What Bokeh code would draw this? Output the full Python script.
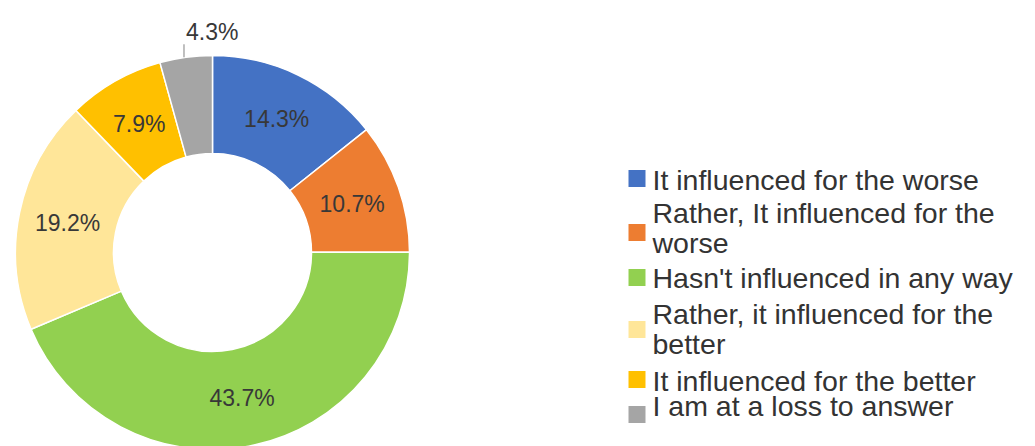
import numpy as np
from bokeh.plotting import figure
from bokeh.models import Range1d, ColumnDataSource
from bokeh.core.properties import value
from bokeh.embed import file_html
from bokeh.resources import INLINE

# ---- data ----
categories = [
    "It influenced for the worse",
    "Rather, It influenced for the worse",
    "Hasn't influenced in any way",
    "Rather, it influenced for the better",
    "It influenced for the better",
    "I am at a loss to answer",
]
legend_lines = [
    ["It influenced for the worse"],
    ["Rather, It influenced for the", "worse"],
    ["Hasn't influenced in any way"],
    ["Rather, it influenced for the", "better"],
    ["It influenced for the better"],
    ["I am at a loss to answer"],
]
shares = [14.3, 10.7, 43.7, 19.2, 7.9, 4.3]
colors = ["#4472C4", "#ED7D31", "#92D050", "#FFE699", "#FFC000", "#A5A5A5"]

# ---- layout ----
W, H = 1035, 446
cx, cy = 212, H - 252
r_out, r_in = 197, 99

p = figure(width=W, height=H, x_range=Range1d(0, W), y_range=Range1d(0, H),
           output_backend="svg", toolbar_location=None,
           x_axis_location=None, y_axis_location=None, min_border=0)
p.outline_line_color = None
p.grid.visible = False
p.background_fill_color = "white"

vals = np.array(shares, dtype=float)
frac = vals / vals.sum()
cum_end = np.cumsum(frac)
cum_start = cum_end - frac
start = np.pi / 2 - 2 * np.pi * cum_end
end = np.pi / 2 - 2 * np.pi * cum_start
mid = 2 * np.pi * (cum_start + cum_end) / 2  # clockwise from top

src = ColumnDataSource(dict(start=start, end=end, color=colors, cat=categories))
p.annular_wedge(x=cx, y=cy, inner_radius=r_in, outer_radius=r_out,
                start_angle="start", end_angle="end", direction="anticlock",
                fill_color="color", line_color="white", line_width=1.5, source=src)

# data labels
lab = [f"{v:.1f}%" for v in shares]
r_mid = (r_in + r_out) / 2
inside = list(range(len(shares) - 1))
lx = [cx + r_mid * np.sin(mid[i]) for i in inside]
ly = [cy + r_mid * np.cos(mid[i]) for i in inside]
p.text(x=lx, y=ly, text=[lab[i] for i in inside], text_align="center",
       text_baseline="middle", text_font=value("Liberation Sans"),
       text_font_size="23px", text_color="#383838")

# outside label for last slice with leader line
k = len(shares) - 1
ex = cx + r_out * np.sin(mid[k])
ey = cy + r_out * np.cos(mid[k])
p.segment(x0=[ex - 2], y0=[ey], x1=[ex - 2], y1=[ey + 13], line_color="#808080", line_width=1)
p.text(x=[ex], y=[ey + 25], text=[lab[k]], text_align="left", text_baseline="middle",
       text_font=value("Liberation Sans"), text_font_size="23px", text_color="#383838")

# legend (drawn manually)
item_text_y = [179, 212, 277, 313, 380, 405]   # first line centres (image coords)
item_box_y = [178, 232, 277, 329, 379, 414]
line_gap = 30
tx, ty, tt = [], [], []
for lines, y0 in zip(legend_lines, item_text_y):
    for j, s in enumerate(lines):
        tx.append(652)
        ty.append(H - (y0 + j * line_gap))
        tt.append(s)
p.rect(x=[636.5] * len(colors), y=[H - y for y in item_box_y], width=17, height=17,
       fill_color=colors, line_color=None)
p.text(x=tx, y=ty, text=tt, text_align="left", text_baseline="middle",
       text_font=value("Liberation Sans"), text_font_size="28.5px", text_color="#333333")

open("out.html", "w").write(file_html(p, INLINE))
